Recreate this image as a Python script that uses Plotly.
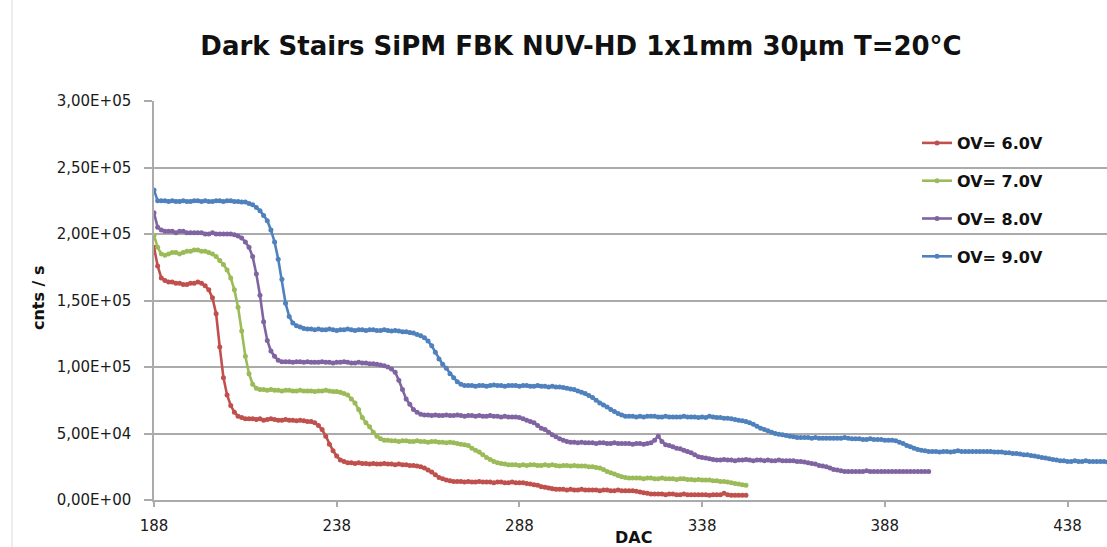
import plotly.graph_objects as go

# ---- data (counts per second, in thousands) at every DAC step of 1, starting at DAC 188 ----
DAC_START = 188
series_names = ["OV= 6.0V", "OV= 7.0V", "OV= 8.0V", "OV= 9.0V"]
series_colors = ["#C0504D", "#9BBB59", "#8064A2", "#4F81BD"]

ov6_k = [
    190, 176, 167, 165, 164, 164, 163, 163, 162, 162, 163, 163, 164, 163, 161, 158, 152, 140, 115, 92, 79, 71, 66, 63, 62, 61,
    61, 61, 60.5, 61, 60, 60.5, 61, 60.5, 60, 60, 60.5, 60, 60, 59.5, 60, 59.5, 59, 59,
    58, 56, 53, 48, 42, 37, 33, 30, 29, 28,
    28, 27.5, 28, 27.5, 27.5, 27, 27.5, 27, 27, 27.5, 27, 27, 26.5, 27, 26.5, 26.5, 26,
    26, 25.5, 25, 24, 22.5, 21, 19, 17, 16, 15, 14.5, 14,
    14, 14, 13.5, 14, 13.5, 13.5, 14, 13.5, 13.5, 13.5, 13, 13.5, 13.5, 13, 13, 13.5, 13, 13, 13, 12.5,
    12, 11.5, 11, 10, 9.5, 9, 8.5, 8,
    8, 8, 7.5, 8, 7.5, 7.5, 8, 7.5, 7.5, 7.5, 7.5, 7, 7.5, 7.5, 7, 7, 7.5, 7, 7, 7, 7, 6.5,
    6, 5.5, 5, 4.5,
    4.5, 4.5, 4.5, 4, 4.5, 4.5, 4, 4, 4.5, 4, 4, 4, 4, 4, 4, 3.5, 4, 4, 4, 5, 4, 3.5, 3.5, 3.5, 3.5, 3.5,
]

ov7_k = [
    199, 190, 185, 184, 185, 186, 186, 185, 186, 187, 187, 188, 188, 187, 187, 186, 185, 183, 180, 177, 173, 167, 158, 145,
    127, 108, 95, 87, 84, 83,
    83, 82.5, 83, 82.5, 82.5, 82, 82.5, 82.5, 82, 82, 82.5, 82, 82, 82, 81.5, 82, 82, 82.5, 82, 81.5,
    81.5, 81, 80, 79, 76, 73, 68, 62, 58, 55, 51, 48, 46, 45,
    45, 44.5, 44.5, 44, 44.5, 44.5, 44, 44, 44.5, 44, 44, 43.5, 44, 44, 43.5, 43.5, 43, 43.5, 43, 42.5,
    42, 41.5, 41, 39, 37.5, 36, 34, 32, 30.5, 29, 28, 27.5, 27, 26.5,
    26.5, 26.5, 26, 26.5, 26, 26.5, 26.5, 26, 26, 26.5, 26, 26.5, 26, 25.5, 26, 26, 25.5, 26, 25.5, 25.5, 25.5, 25, 25, 24.5,
    24, 23, 21.5, 20.5, 19.5, 18.5, 17.5, 17,
    16.5, 16.5, 16.5, 16.5, 16, 16.5, 16.5, 16, 16, 16.5, 16, 16, 16, 15.5, 16, 16, 15.5, 15.5, 15, 15.5, 15, 15, 15, 14.5,
    14.5, 14, 14, 13.5,
    13, 12.5, 12, 11.5, 11,
]

ov8_k = [
    216, 205, 203, 202, 202, 202, 201, 202, 202, 201, 201, 201, 201, 201, 200, 200, 201, 200, 200, 200, 200, 200, 199.5,
    198.5, 197, 194, 190, 183, 170, 154, 134, 120, 112, 108, 105, 104,
    104, 104, 103.5, 104, 104, 103.5, 104, 103.5, 103.5, 103.5, 104, 103.5, 103.5, 103, 103.5, 103.5, 104, 103.5, 103, 103,
    103.5, 103, 103, 102.5,
    102.5, 102, 101.5, 101, 100, 98.5, 96, 90, 83, 76, 72, 68, 66, 64.5,
    64, 64, 63.5, 64, 63.5, 63.5, 64, 63.5, 63.5, 64, 63.5, 63, 63.5, 63.5, 63, 63.5, 63, 63, 63.5, 63, 63, 62.5, 63, 62.5,
    62.5, 62.5, 62,
    61, 60, 59, 58, 56, 54, 53, 51, 49, 47.5, 46, 45, 44,
    43.5, 43.5, 43, 43.5, 43, 43, 43, 42.5, 43, 43, 42.5, 42.5, 43, 42.5, 42.5, 42.5, 42.5, 42, 42.5, 42.5, 42, 42.5,
    43, 45, 48, 44, 41.5, 41, 40, 39, 38.5, 37.5, 36.5, 35.5, 34, 32.5, 32, 31.5, 31,
    30.5, 30, 30, 30.5, 30, 30, 29.5, 30, 30, 30.5, 30, 29.5, 30, 30, 29.5, 30, 29.5, 29.5, 30, 29.5, 29.5, 29.5, 29.5, 29,
    29, 28.5,
    28, 27.5, 27, 26, 25.5, 25, 24, 23, 22.5, 22, 21.5,
    21.5, 21.5, 21.5, 21.5, 21.5, 22, 21.5, 21.5, 21.5, 21.5, 21.5, 21.5, 21.5, 21.5, 21.5, 21.5, 21.5, 21.5, 21.5, 21.5,
    21.5, 21.5, 21.5,
]

ov9_k = [
    233, 225, 225,
    225, 224.5, 225, 224.5, 224.5, 225, 224.5, 224.5, 225, 225, 224.5, 225, 224.5, 224.5, 225, 225, 224.5, 225, 225, 224.5,
    224.5, 224,
    224, 223, 222, 220, 217.5, 214, 210, 203, 194, 181, 166, 148, 138, 133, 131, 130, 129, 128.5,
    128.5, 128, 128.5, 128, 128, 128.5, 128, 127.5, 128, 128, 128.5, 128, 127.5, 128, 128, 127.5, 128, 128, 127.5, 127.5,
    128, 127.5, 127, 127.5, 127, 126.5, 126.5, 126,
    125.5, 124.5, 123.5, 122, 119.5, 116, 111, 106, 102, 99, 95, 92, 89, 87, 86,
    86, 86, 85.5, 86, 86, 85.5, 86, 86.5, 86, 86, 85.5, 86, 86, 86, 85.5, 86, 86, 85.5, 85.5, 86, 85.5, 85.5, 85, 85.5,
    85, 85, 84.5, 84,
    83.5, 83, 82, 81, 80, 78.5, 77, 75, 73, 71.5, 70, 68, 66.5, 65, 64, 63,
    63, 63, 62.5, 63, 62.5, 63, 63, 63, 62.5, 62.5, 63, 62.5, 62.5, 62.5, 62.5, 63, 62.5, 62.5, 62.5, 62, 62.5, 62, 63,
    62.5, 62, 62, 61.5, 61.5, 61, 60.5, 60,
    59.5, 59, 58, 57, 55.5, 54, 53, 52, 51, 50, 49.5, 49,
    48.5, 48, 47.5, 47, 47, 47, 47, 46.5, 47, 46.5, 46.5, 46.5, 46.5, 46.5, 46.5, 46.5, 47, 46.5, 46, 46, 46, 45.5, 45.5,
    46, 45.5, 45.5, 45.5, 45, 45, 45, 44.5,
    43.5, 42.5, 41, 40, 39, 38, 37.5, 37, 36.5,
    36.5, 36.5, 36, 36.5, 36.5, 36, 36.5, 37, 36.5, 36.5, 36.5, 36.5, 36.5, 36.5, 36.5, 36.5, 36.5, 36, 36, 36, 35.5, 35.5, 35,
    35, 34.5, 34, 34, 33.5, 33, 32.5, 32, 31.5, 31, 30.5, 30, 29.5, 29.5, 29, 29, 29.5, 29, 29, 29.5, 29, 29, 29, 29, 29, 28.5,
]

x_tick_vals = [188, 238, 288, 338, 388, 438]
y_tick_vals = [0, 50000, 100000, 150000, 200000, 250000, 300000]
y_tick_text = ["0,00E+00", "5,00E+04", "1,00E+05", "1,50E+05", "2,00E+05", "2,50E+05", "3,00E+05"]

title_text = "Dark Stairs SiPM FBK NUV-HD 1x1mm 30µm T=20°C"
x_title = "DAC"
y_title = "cnts / s"

# ---- figure ----
W, H = 1107, 547
L, R, T, B = 154, 0, 101, 47
pw, ph = W - L - R, H - T - B


def px_x(p):
    return (p - L) / pw


def px_y(p):
    return (H - B - p) / ph


fig = go.Figure()
for i, (name, color, vals) in enumerate(zip(series_names, series_colors, [ov6_k, ov7_k, ov8_k, ov9_k])):
    xs = [DAC_START + k for k in range(len(vals))]
    ys = [v * 1000 for v in vals]
    fig.add_trace(go.Scatter(
        x=xs, y=ys, name=name, mode="lines+markers",
        line=dict(color=color, width=2.6),
        marker=dict(color=color, size=5, symbol="circle"),
        legendgroup=f"g{i}",
    ))

grid_col = "#ABABAB"
tick_font = dict(size=15, family="DejaVu Sans", color="#1A1A1A")
fig.update_layout(
    width=W, height=H,
    margin=dict(l=L, r=R, t=T, b=B, pad=0),
    paper_bgcolor="white", plot_bgcolor="white",
    font=dict(family="DejaVu Sans", color="#1A1A1A"),
    title=dict(text=title_text, x=581 / W, xanchor="center", y=1 - 46 / H, yanchor="middle",
               font=dict(family="DejaVu Sans", size=26, weight="bold", color="#111111")),
    xaxis=dict(range=[188, 448.8], tickvals=x_tick_vals, ticktext=[str(v) for v in x_tick_vals],
               showgrid=False, zeroline=False, showline=True, linecolor=grid_col, linewidth=1.5,
               ticks="outside", ticklen=5, tickcolor=grid_col, tickwidth=1.5, ticklabelstandoff=6,
               tickfont=tick_font),
    yaxis=dict(range=[0, 300000], tickvals=y_tick_vals, ticktext=y_tick_text,
               showgrid=True, gridcolor=grid_col, gridwidth=1.5, zeroline=False,
               showline=True, linecolor=grid_col, linewidth=1.5,
               ticks="outside", ticklen=8, tickcolor=grid_col, tickwidth=1.5, ticklabelstandoff=10,
               tickfont=tick_font),
    showlegend=True,
    legend=dict(x=px_x(917), y=px_y(126), xanchor="left", yanchor="top",
                font=dict(family="DejaVu Sans", size=16, weight="bold", color="#111111"),
                tracegroupgap=14, bgcolor="rgba(0,0,0,0)"),
    annotations=[
        dict(text=y_title, x=px_x(38), y=px_y(298), xref="paper", yref="paper", showarrow=False,
             textangle=-90, xanchor="center", yanchor="middle",
             font=dict(family="DejaVu Sans", size=16, weight="bold", color="#111111")),
        dict(text=x_title, x=px_x(633), y=px_y(537), xref="paper", yref="paper", showarrow=False,
             xanchor="center", yanchor="middle",
             font=dict(family="DejaVu Sans", size=16, weight="bold", color="#111111")),
    ],
    shapes=[
        dict(type="line", xref="paper", yref="paper", x0=px_x(12), x1=px_x(12), y0=px_y(0), y1=px_y(H),
             line=dict(color="#D9D9D9", width=1)),
    ],
)

fig.write_html("out.html")
